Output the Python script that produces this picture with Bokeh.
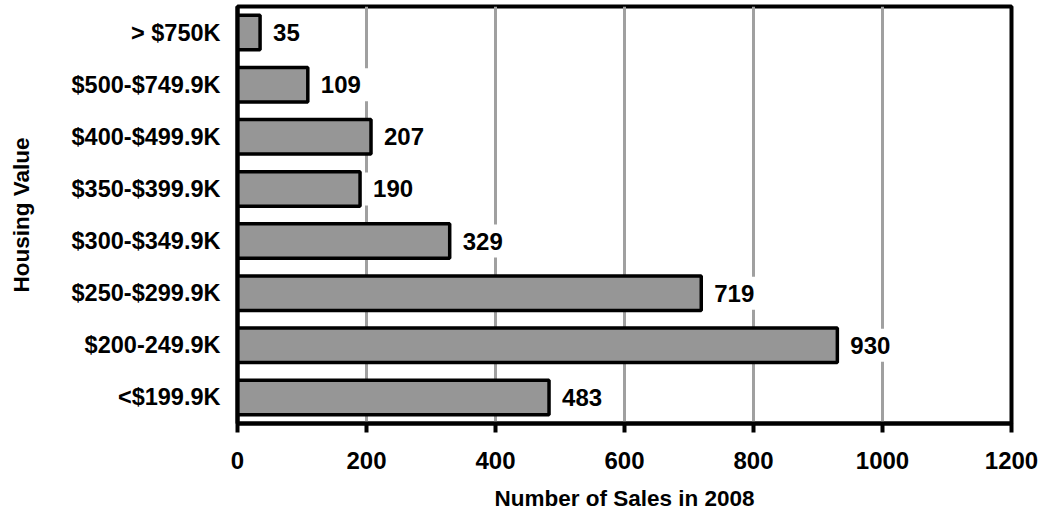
from bokeh.plotting import figure
from bokeh.models import ColumnDataSource, FactorRange, Range1d, FixedTicker
from bokeh.core.properties import value
from bokeh.embed import file_html
from bokeh.resources import INLINE

categories = ["<$199.9K", "$200-249.9K", "$250-$299.9K", "$300-$349.9K",
              "$350-$399.9K", "$400-$499.9K", "$500-$749.9K", "> $750K"]
sales = [483, 930, 719, 329, 190, 207, 109, 35]
x_ticks = [0, 200, 400, 600, 800, 1000, 1200]

FONT = "Liberation Sans"

src = ColumnDataSource(dict(cat=categories, val=sales, lbl=[str(v) for v in sales]))

p = figure(width=1046, height=516, output_backend="svg", toolbar_location=None,
           y_range=FactorRange(factors=categories, range_padding=0),
           x_range=Range1d(0, 1200),
           min_border_left=237, min_border_right=35, min_border_top=6, min_border_bottom=93)

p.hbar(y="cat", right="val", left=0, height=0.66, source=src,
       fill_color="#969696", line_color="black", line_width=3.5)

p.text(x="val", y="cat", text="lbl", source=src, x_offset=5,
       text_baseline="middle", text_align="left",
       text_font=value(FONT), text_font_style="bold", text_font_size="24px",
       text_color="black", background_fill_color="white", padding=8)

p.outline_line_color = "black"
p.outline_line_width = 4
p.outline_line_alpha = 1

p.ygrid.grid_line_color = None
p.xgrid.grid_line_color = "#a0a0a0"
p.xgrid.grid_line_width = 3
p.xaxis.ticker = FixedTicker(ticks=x_ticks)

for ax in (p.xaxis[0], p.yaxis[0]):
    ax.axis_line_color = "black"
    ax.axis_line_width = 4
    ax.major_label_text_font = FONT
    ax.major_label_text_font_style = "bold"
    ax.major_label_text_color = "black"
    ax.axis_label_text_font = FONT
    ax.axis_label_text_font_style = "bold"
    ax.axis_label_text_font_size = "22.5px"
    ax.axis_label_text_color = "black"
    ax.minor_tick_line_color = None

p.xaxis.major_label_text_font_size = "24px"
p.yaxis.major_label_text_font_size = "23.5px"

p.xaxis.major_tick_line_color = "black"
p.xaxis.major_tick_line_width = 4
p.xaxis.major_tick_out = 9
p.xaxis.major_tick_in = 0
p.xaxis.major_label_standoff = 19
p.xaxis.axis_label = "Number of Sales in 2008"
p.xaxis.axis_label_standoff = 14

p.yaxis.major_tick_line_color = None
p.yaxis.major_tick_out = 0
p.yaxis.major_tick_in = 0
p.yaxis.major_label_standoff = 17
p.yaxis.axis_label = "Housing Value"
p.yaxis.axis_label_standoff = 35

open("out.html", "w").write(file_html(p, INLINE))
